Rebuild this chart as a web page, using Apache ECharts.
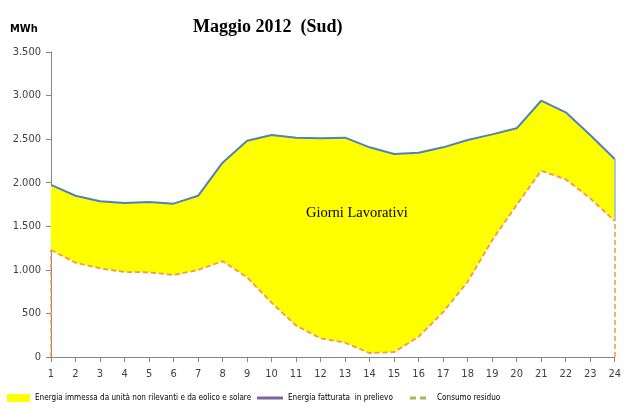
<!DOCTYPE html>
<html><head><meta charset="utf-8">
<script src="https://cdn.jsdelivr.net/npm/echarts@6/dist/echarts.min.js"></script>
<style>html,body{margin:0;padding:0;background:#fff}#c{width:624px;height:408px}</style>
</head><body><div id="c"></div>
<script>
const hours = ['1','2','3','4','5','6','7','8','9','10','11','12','13','14','15','16','17','18','19','20','21','22','23','24'];
const fatturata = [1975,1850,1787,1767,1780,1760,1850,2230,2482,2548,2517,2510,2517,2406,2330,2345,2406,2490,2555,2624,2941,2808,2548,2272];
const consumo = [1228,1082,1018,975,972,941,998,1100,914,623,360,214,164,45,57,233,515,864,1340,1745,2137,2039,1821,1561];
const yTicks = [0,500,1000,1500,2000,2500,3000,3500];
const immessa = fatturata.map((v,i)=>v-consumo[i]);

const N1 = 'Energia immessa da unità non rilevanti e da eolico e solare';
const N2 = 'Energia fatturata  in prelievo';
const N3 = 'Consumo residuo';
const legFont = {fontFamily:'DejaVu Sans Condensed', fontSize:8.1, color:'#000'};

const chart = echarts.init(document.getElementById('c'), null, {renderer:'canvas'});
const fmt = v => String(v).replace(/\B(?=(\d{3})+(?!\d))/g,'.');
chart.setOption({
  animation:false,
  title:{text:'Maggio 2012  (Sud)', left:188, top:13,
    textStyle:{fontFamily:'Liberation Serif', fontWeight:'bold', fontSize:18, color:'#000'}},
  grid:{left:51, right:7, top:52, bottom:51},
  xAxis:{type:'category', data:hours, boundaryGap:false,
    axisLine:{lineStyle:{color:'#868686'}},
    axisTick:{alignWithLabel:true, length:5, lineStyle:{color:'#868686'}},
    axisLabel:{color:'#404040', fontSize:11, fontFamily:'DejaVu Sans Condensed', margin:12}},
  yAxis:{type:'value', min:0, max:3500, interval:500,
    axisLine:{show:true, lineStyle:{color:'#868686'}},
    axisTick:{show:true, length:5, lineStyle:{color:'#868686'}},
    splitLine:{show:false},
    axisLabel:{color:'#404040', fontSize:11, fontFamily:'DejaVu Sans Condensed', margin:10,
      formatter: v => yTicks.includes(v) ? fmt(v) : ''}},
  legend:[
    {left:2, bottom:1, itemWidth:23, itemHeight:8, itemGap:0, textStyle:legFont,
      data:[{name:N1, icon:'rect', itemStyle:{color:'#FFFF00'}}]},
    {left:252, bottom:1, itemWidth:26, itemHeight:8, itemGap:0, textStyle:legFont,
      data:[{name:N2, icon:'path://M0,0H26V3H0Z', itemStyle:{color:'#8064A2'}}]},
    {left:405, bottom:1, itemWidth:22, itemHeight:8, itemGap:0, textStyle:legFont,
      data:[{name:N3, icon:'path://M0,0H6V3H0Z M10,0H16V3H10Z M21.9,0H22V0.05H21.9Z', itemStyle:{color:'#9BBB59'}}]}
  ],
  series:[
    {name:N3, type:'line', stack:'a', data:consumo, symbol:'none',
      lineStyle:{color:'#F79646', width:1.8, type:[5,3]}, itemStyle:{color:'#9BBB59'}, z:4,
      markLine:{silent:true, symbol:'none', label:{show:false},
        lineStyle:{color:'#F79646', width:1.5, type:[5,3]},
        data:[
          [{coord:[hours[0],0]},{coord:[hours[0],consumo[0]]}],
          [{coord:[hours[23],0]},{coord:[hours[23],consumo[23]]}]
        ]}},
    {name:N1, type:'line', stack:'a', data:immessa, symbol:'none',
      lineStyle:{width:0}, areaStyle:{color:'#FFFF00', opacity:1}, itemStyle:{color:'#FFFF00'}, z:2},
    {name:N2, type:'line', data:fatturata, symbol:'none',
      lineStyle:{color:'#4F81BD', width:2}, itemStyle:{color:'#8064A2'}, z:5,
      markLine:{silent:true, symbol:'none', label:{show:false},
        lineStyle:{color:'#95B3D7', width:1.5, type:'solid'},
        data:[[{coord:[hours[23],consumo[23]]},{coord:[hours[23],fatturata[23]]}]]}}
  ],
  graphic:[
    {type:'text', left:306, top:206, z:100,
      style:{text:'Giorni Lavorativi', fontFamily:'Liberation Serif', fontSize:14.5, fill:'#000'}},
    {type:'text', left:10, top:24, z:100,
      style:{text:'MWh', fontFamily:'DejaVu Sans Condensed', fontWeight:'bold', fontSize:11, fill:'#000'}}
  ]
});
</script></body></html>
